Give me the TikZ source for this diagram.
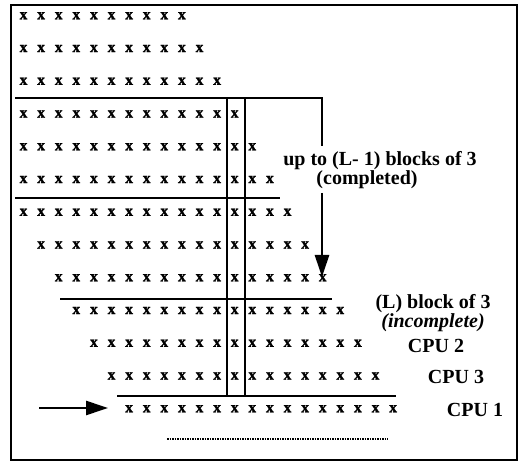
\documentclass[tikz,border=0pt]{standalone}
\usepackage{fontspec}
\setmainfont{Liberation Serif}
\newfontfamily\xfont[FakeBold=1.5]{Liberation Serif Bold}
\usetikzlibrary{arrows.meta}
\begin{document}
\begin{tikzpicture}[x=1pt,y=-1pt,
  cell/.style={font=\fontsize{15.5}{15.5}\selectfont\xfont, inner sep=0pt, text height=1ex, text depth=0pt, anchor=center},
  lbl/.style={font=\fontsize{20}{20}\selectfont\bfseries, inner sep=0pt, anchor=base},
  rule/.style={line width=2pt},
  arr/.style={line width=2.6pt,-{Triangle[width=14pt,length=22pt]}}]
\useasboundingbox (0,0) rectangle (520,465);
\draw[line width=1.6pt] (11,5) rectangle (517,460);
\foreach \r in {0,...,12}{
  \pgfmathtruncatemacro\cs{max(0,\r-6)}
  \pgfmathtruncatemacro\ce{9+\r}
  \foreach \c in {\cs,...,\ce}{
    \node[cell] (x-\r-\c) at ({23.5+17.6*\c},{17+32.75*\r}) {x};
  }
}
% horizontal rules and arrow path
\coordinate (a1) at (15,98);
\coordinate (a2) at (322,98);
\coordinate (a3) at (322,146);
\draw[rule] (a1) -- (a2) -- (a3);
\coordinate (d1) at (322,193);
\coordinate (d2) at (322,277);
\draw[arr] (d1) -- (d2);
\coordinate (b1) at (15,198);
\coordinate (b2) at (280,198);
\draw[rule] (b1) -- (b2);
\coordinate (c1) at (60,299);
\coordinate (c2) at (332,299);
\draw[rule] (c1) -- (c2);
\coordinate (e1) at (117,396);
\coordinate (e2) at (396,396);
\draw[rule] (e1) -- (e2);
% vertical rules
\coordinate (v1t) at (227,98);
\coordinate (v1b) at (227,396);
\coordinate (v2t) at (245,98);
\coordinate (v2b) at (245,396);
\draw[rule] (v1t) -- (v1b);
\draw[rule] (v2t) -- (v2b);
% left arrow
\coordinate (l1) at (39,408);
\coordinate (l2) at (108,408);
\draw[arr] (l1) -- (l2);
% dotted line
\coordinate (o1) at (167,439);
\coordinate (o2) at (388,439);
\draw[line width=2pt, dash pattern=on 1.5pt off 1pt] (o1) -- (o2);
% labels
\node[lbl] (t1) at (380,166) {up to (L- 1) blocks of 3};
\node[lbl] (t2) at (367,185) {(completed)};
\node[lbl, align=center, font=\fontsize{20}{16}\selectfont\bfseries] (t3) at (433,328) {(L) block of 3\\\itshape (incomplete)};
\node[lbl] (t5) at (436,353) {CPU 2};
\node[lbl] (t6) at (456,384) {CPU 3};
\node[lbl] (t7) at (475,416) {CPU 1};
\end{tikzpicture}
\end{document}
